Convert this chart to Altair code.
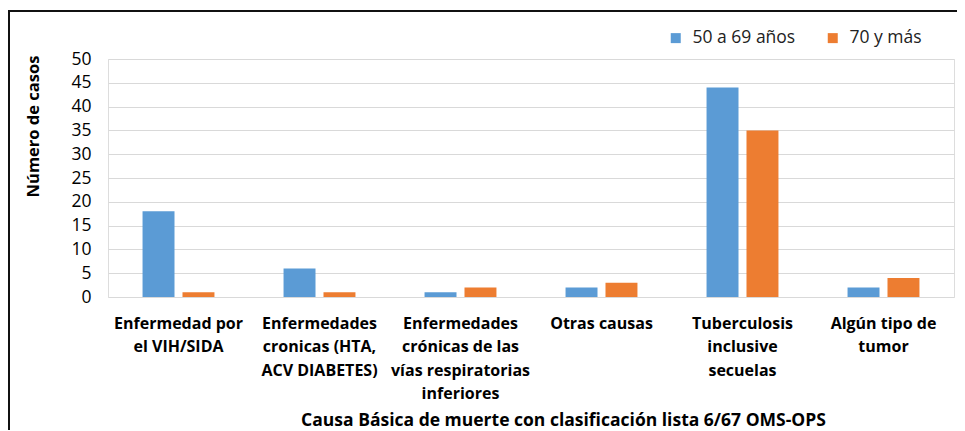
import json
import altair as alt
import pandas as pd

label_lines = [
    ["Enfermedad por", "el VIH/SIDA"],
    ["Enfermedades", "cronicas (HTA,", "ACV DIABETES)"],
    ["Enfermedades", "crónicas de las", "vías respiratorias", "inferiores"],
    ["Otras causas"],
    ["Tuberculosis", "inclusive", "secuelas"],
    ["Algún tipo de", "tumor"],
]
categories = [" ".join(l) for l in label_lines]
series = ["50 a 69 años", "70 y más"]
values_50_69 = [18, 6, 1, 2, 44, 2]
values_70 = [1, 1, 2, 3, 35, 4]
colors = ["#5B9BD5", "#ED7D31"]

rows = []
for c, a, b in zip(categories, values_50_69, values_70):
    rows.append({"causa": c, "grupo": series[0], "casos": a})
    rows.append({"causa": c, "grupo": series[1], "casos": b})
df = pd.DataFrame(rows)

label_map = json.dumps({c: l for c, l in zip(categories, label_lines)}, ensure_ascii=False)

FONT = "Open Sans"

bars = alt.Chart(df).mark_bar().encode(
    x=alt.X("causa:N", sort=categories,
            scale=alt.Scale(paddingInner=0.49, paddingOuter=0.245),
            axis=alt.Axis(title="Causa Básica de muerte con clasificación lista 6/67 OMS-OPS",
                          labelAngle=0, labelFont=FONT, labelFontSize=16, labelFontWeight="bold",
                          labelColor="#000", labelExpr=f"{label_map}[datum.label]",
                          labelPadding=18, labelLineHeight=23.5, labelLimit=300,
                          domain=False, ticks=False,
                          titleFont=FONT, titleFontSize=17.5, titleFontWeight="bold", titleColor="#000",
                          titleX=455, titleY=123, titleAlign="center", titleBaseline="middle")),
    xOffset=alt.XOffset("grupo:N", sort=series,
                        scale=alt.Scale(paddingInner=0.2, paddingOuter=0)),
    y=alt.Y("casos:Q", scale=alt.Scale(domain=[0, 50], nice=False),
            axis=alt.Axis(title="Número de casos", values=list(range(0, 55, 5)),
                          labelFont=FONT, labelFontSize=17.5, labelColor="#000", labelPadding=17,
                          domain=False, ticks=False, gridColor="#d9d9d9", gridWidth=1,
                          titleFont=FONT, titleFontSize=16.5, titleFontWeight="bold", titleColor="#000",
                          titleX=-75, titleY=67, titleAngle=-90, titleAlign="center",
                          titleBaseline="middle")),
    color=alt.Color("grupo:N", sort=series,
                    scale=alt.Scale(domain=series, range=colors),
                    legend=alt.Legend(title=None, orient="none", direction="horizontal",
                                      legendX=559, legendY=-30, symbolType="square",
                                      symbolSize=100, symbolStrokeWidth=0,
                                      labelFont=FONT, labelFontSize=17.5, labelColor="#222",
                                      columnPadding=28, labelOffset=8)),
)

frame = alt.Chart(pd.DataFrame({"k": [0]})).mark_rect(
    fill=None, stroke="#111", strokeWidth=2
).encode(
    x=alt.value(-99), x2=alt.value(2000), y=alt.value(-48), y2=alt.value(2000)
)

chart = alt.layer(frame, bars).properties(
    width=846, height=238,
    autosize=alt.AutoSizeParams(type="none"),
    padding={"left": 100, "top": 51, "right": 3, "bottom": 133},
).configure_view(stroke=None).configure(background="white")

chart.save("out.html", embed_options={"renderer": "svg", "actions": False})
